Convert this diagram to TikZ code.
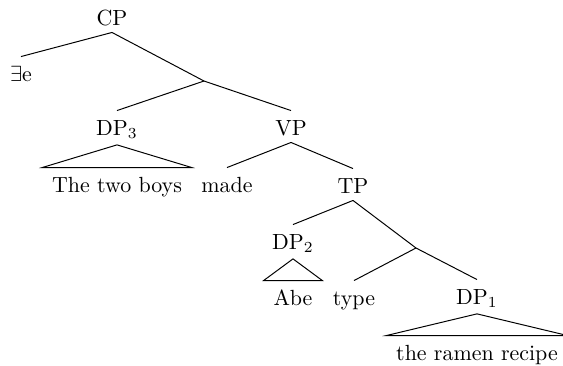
\documentclass[tikz,border=0pt]{standalone}
\usetikzlibrary{calc}
\begin{document}
\begin{tikzpicture}[x=0.456pt,y=-0.456pt,
  lbl/.style={anchor=base,inner xsep=0pt,inner ysep=0pt,text height=10.95pt,text depth=3.2pt},
  sublbl/.style={lbl,text depth=4.3pt},
  leaf/.style={anchor=base,inner xsep=4.3pt,inner ysep=0pt,text height=10.95pt,text depth=2pt},
  branch/.style={line width=0.45pt},
  roof/.style={line width=0.45pt,line join=miter}]
\useasboundingbox (0,0) rectangle (563,365);

% labelled nodes
\node[lbl] (CP) at (112,25) {CP};
\node[lbl] (Ee) at (21,81) {$\exists$e};
\coordinate (b1) at (204,81);
\node[sublbl] (DP3) at (117,135) {DP$_3$};
\node[lbl] (VP) at (291,135) {VP};
\node[leaf] (boys) at (117,192) {The two boys};
\node[lbl] (made) at (227,192) {made};
\node[lbl] (TP) at (353,193) {TP};
\node[sublbl] (DP2) at (293,249) {DP$_2$};
\coordinate (b2) at (416,248);
\node[leaf] (abe) at (293,305) {Abe};
\node[lbl] (type) at (354,305) {type};
\node[sublbl] (DP1) at (477,304) {DP$_1$};
\node[leaf] (ramen) at (477,360) {the ramen recipe};

% branches
\draw[branch] (CP.south) -- (Ee.north);
\draw[branch] (CP.south) -- (b1);
\draw[branch] (b1) -- (DP3.north);
\draw[branch] (b1) -- (VP.north);
\draw[branch] (VP.south) -- (made.north);
\draw[branch] (VP.south) -- (TP.north);
\draw[branch] (TP.south) -- (DP2.north);
\draw[branch] (TP.south) -- (b2);
\draw[branch] (b2) -- (type.north);
\draw[branch] (b2) -- (DP1.north);

% roofs over unanalysed phrases
\draw[roof] (DP3.south) -- (boys.north west) -- (boys.north east) -- cycle;
\draw[roof] (DP2.south) -- (abe.north west) -- (abe.north east) -- cycle;
\draw[roof] (DP1.south) -- (ramen.north west) -- (ramen.north east) -- cycle;
\end{tikzpicture}
\end{document}
